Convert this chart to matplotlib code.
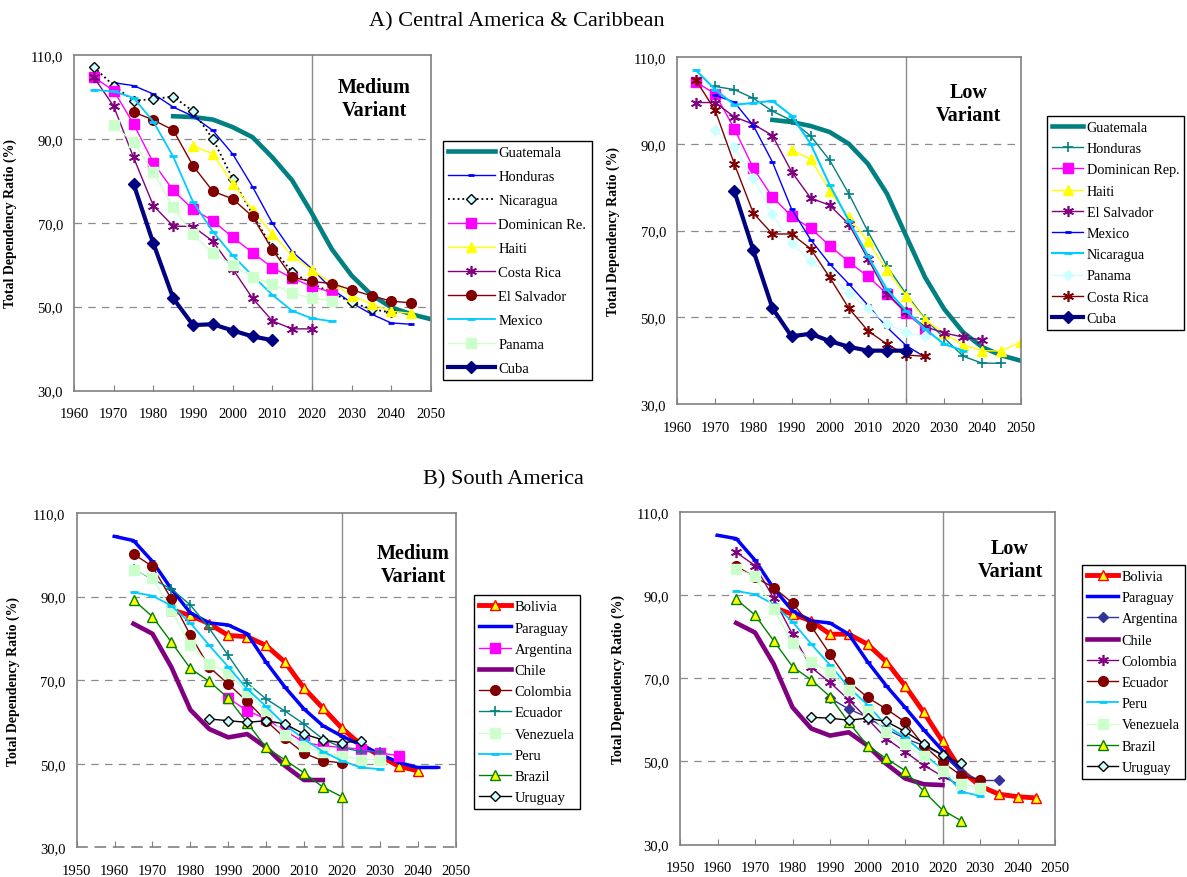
import numpy as np
import matplotlib
matplotlib.use("Agg")
import matplotlib.pyplot as plt

plt.rcParams['font.family'] = ['Liberation Serif', 'DejaVu Serif']

# ---- A) Central America & Caribbean, medium variant (first year, values every 5 years)
am_guatemala = [95.4, 95.2, 94.6, 92.8, 90.4, 85.6, 80.1, 72.2, 63.7, 57.4, 52.8, 49.8, 48.2, 47.0]        # 1985-
am_honduras = [103.4, 102.7, 100.7, 97.6, 95.4, 92.0, 86.4, 78.6, 69.9, 63.1, 59.0, 54.2, 50.9, 48.2, 46.1, 45.8]  # 1970-
am_nicaragua = [107.1, 102.7, 99.1, 99.5, 100.1, 96.6, 90.0, 80.5, 72.0, 64.0, 58.2, 55.5, 53.3, 51.0, 49.4, 48.6]  # 1965-
am_dominican = [104.7, 101.5, 93.6, 84.3, 77.7, 73.2, 70.5, 66.5, 62.9, 59.3, 56.8, 54.8, 53.4]           # 1965-
am_haiti = [88.4, 86.4, 79.3, 73.1, 67.3, 62.2, 58.7, 55.6, 52.6, 50.6, 48.9, 48.4]                        # 1990-
am_costa_rica = [104.7, 97.8, 85.6, 74.1, 69.2, 69.1, 65.6, 59.0, 52.0, 46.6, 44.7, 44.7]                  # 1965-
am_el_salvador = [96.4, 94.5, 92.1, 83.6, 77.5, 75.7, 71.5, 63.6, 57.0, 56.0, 55.5, 54.0, 52.6, 51.3, 50.9]  # 1975-
am_mexico = [101.7, 101.3, 99.8, 94.1, 85.8, 75.0, 67.9, 62.2, 57.4, 52.8, 49.0, 47.2, 46.5]              # 1965-
am_panama = [93.2, 89.2, 82.0, 73.7, 67.2, 62.8, 59.9, 57.1, 55.4, 53.2, 52.0, 51.4]                       # 1970-
am_cuba = [79.3, 65.1, 52.0, 45.6, 45.8, 44.3, 42.9, 42.0]                                                 # 1975-

# ---- A) low variant
al_guatemala = [95.5, 95.0, 94.1, 92.7, 90.0, 85.4, 78.5, 68.8, 59.2, 51.9, 46.5, 43.1, 41.2, 40.0]       # 1985-
al_honduras = [103.2, 102.5, 100.5, 97.5, 95.4, 91.8, 86.2, 78.5, 69.8, 61.8, 55.4, 49.6, 45.2, 41.0, 39.4, 39.4]  # 1970-
al_dominican = [104.2, 101.5, 93.5, 84.4, 77.7, 73.3, 70.5, 66.5, 62.8, 59.4, 55.4, 50.9, 47.3]           # 1965-
al_haiti = [88.5, 86.5, 79.2, 73.1, 67.5, 60.8, 55.0, 49.4, 46.3, 43.6, 42.3, 42.2, 44.3]                  # 1990-
al_el_salvador = [99.5, 99.5, 96.2, 94.5, 91.9, 83.6, 77.5, 75.8, 71.5, 63.5, 55.4, 51.2, 47.8, 46.4, 45.4, 44.8]  # 1965-
al_mexico = [101.2, 99.6, 94.2, 85.8, 75.0, 67.9, 62.3, 57.7, 52.8, 47.7, 43.5, 40.8]                      # 1970-
al_nicaragua = [106.9, 102.5, 99.0, 99.4, 99.9, 96.5, 90.0, 80.5, 72.3, 64.2, 56.4, 51.5, 47.3, 43.8, 42.3]  # 1965-
al_panama = [93.1, 89.2, 82.1, 73.7, 67.2, 62.9, 60.0, 55.5, 52.1, 48.5, 46.5, 45.6]                       # 1970-
al_costa_rica = [104.6, 97.7, 85.4, 74.0, 69.2, 69.2, 65.8, 59.2, 52.1, 46.9, 43.8, 41.3, 41.0]            # 1965-
al_cuba = [79.1, 65.4, 52.1, 45.6, 46.2, 44.5, 43.2, 42.3, 42.3, 42.3]                                     # 1975-

# ---- B) South America, medium variant
bm_bolivia = [86.8, 85.5, 83.5, 80.7, 80.4, 78.3, 74.3, 68.1, 63.3, 58.5, 54.6, 51.9, 49.4, 48.3]         # 1975-
bm_paraguay = [104.4, 103.4, 98.4, 91.8, 86.1, 83.7, 83.2, 81.1, 74.3, 68.3, 63.1, 59.1, 56.6, 54.5, 52.3, 50.3, 49.1, 49.1]  # 1960-
bm_argentina = [65.7, 62.7, 60.7, 57.9, 55.1, 54.3, 53.9, 53.5, 52.6, 51.9]                                # 1990-
bm_chile = [83.5, 81.1, 73.1, 62.9, 58.3, 56.3, 57.1, 53.9, 49.5, 46.1, 46.1]                              # 1965-
bm_colombia = [100.2, 97.2, 89.4, 80.8, 73.1, 69.1, 64.9, 60.3, 56.1, 52.5, 50.7, 50.2]                    # 1965-
bm_ecuador = [96.6, 94.2, 91.8, 88.0, 82.4, 75.9, 69.3, 65.5, 62.6, 59.5, 55.9, 53.9, 52.9, 52.9]          # 1965-
bm_venezuela = [96.4, 94.5, 86.8, 78.3, 73.9, 71.7, 67.1, 62.5, 56.9, 54.2, 52.7, 51.9, 51.0, 51.0]        # 1965-
bm_peru = [91.0, 90.2, 87.8, 83.7, 78.3, 73.2, 67.9, 63.7, 59.3, 55.9, 52.9, 50.7, 49.1, 48.7]             # 1965-
bm_brazil = [89.2, 85.2, 79.1, 72.8, 69.7, 65.7, 59.8, 53.9, 50.9, 47.8, 44.4, 42.1]                       # 1965-
bm_uruguay = [60.7, 60.3, 59.9, 60.3, 59.5, 57.1, 55.7, 55.0, 55.5]                                        # 1985-

# ---- B) low variant
bl_bolivia = [87.0, 85.4, 83.8, 80.6, 80.6, 78.2, 74.0, 68.2, 61.8, 54.8, 47.8, 44.1, 42.1, 41.5, 41.2]   # 1975-
bl_paraguay = [104.4, 103.6, 98.4, 91.6, 86.2, 83.8, 83.3, 80.6, 74.0, 68.2, 63.0, 57.6, 52.6, 47.5]       # 1960-
bl_argentina = [65.2, 62.6, 60.6, 57.8, 55.5, 53.8, 51.5, 47.5, 45.4, 45.4]                                # 1990-
bl_chile = [83.3, 81.0, 73.4, 63.0, 57.9, 56.2, 57.0, 53.8, 49.4, 45.9, 44.5, 44.3]                        # 1965-
bl_colombia = [100.3, 97.1, 89.2, 80.6, 72.6, 69.0, 64.8, 60.2, 55.5, 52.3, 49.1, 46.4, 44.1]             # 1965-
bl_ecuador = [97.0, 94.3, 91.8, 88.1, 82.5, 75.8, 69.2, 65.4, 62.6, 59.5, 53.8, 49.8, 46.6, 45.5]          # 1965-
bl_peru = [91.0, 90.2, 87.8, 83.6, 78.2, 73.2, 67.8, 63.6, 58.6, 55.8, 51.9, 47.9, 42.7, 41.7]             # 1965-
bl_venezuela = [96.4, 94.5, 86.6, 78.5, 73.8, 71.6, 67.2, 62.2, 57.0, 54.2, 51.2, 47.8, 44.6, 43.7]        # 1965-
bl_brazil = [89.0, 85.2, 79.0, 72.8, 69.6, 65.6, 59.4, 53.8, 50.7, 47.8, 42.8, 38.3, 35.7]                 # 1965-
bl_uruguay = [60.6, 60.4, 59.9, 60.4, 59.6, 57.2, 54.3, 51.5, 49.5]                                        # 1985-

y_ticks = [30, 50, 70, 90, 110]
y_ticklabels = ['30,0', '50,0', '70,0', '90,0', '110,0']

# colours (Excel palette)
TEAL = '#008080'
BLUE = '#0000FF'
MAGENTA = '#FF00FF'
YELLOW = '#FFFF00'
PURPLE = '#800080'
DARKRED = '#800000'
SKY = '#00CCFF'
PALEGREEN = '#CCFFCC'
PALECYAN = '#CCFFFF'
NAVY = '#000080'
RED = '#FF0000'
GREEN = '#008000'
INDIGO = '#333399'
STAR = (6, 2, 0)

W, H = 1187, 878
fig = plt.figure(figsize=(W / 100, H / 100), dpi=100)


def px_axes(l, t, r, b):
    return fig.add_axes([l / W, 1 - b / H, (r - l) / W, (b - t) / H])


def series(ax, start, vals, label, color, lw=1.0, ls='-', marker=None, ms=6,
           mfc=None, mec=None, mew=1.0):
    yrs = np.arange(start, start + 5 * len(vals), 5)
    ax.plot(yrs, vals, color=color, lw=lw, ls=ls, marker=marker, ms=ms,
            mfc=mfc if mfc else color, mec=mec if mec else color, mew=mew,
            label=label, solid_joinstyle='round')


def style_axes(ax, x0, variant, tx, ty, labx):
    ax.set_xlim(x0, 2050)
    ax.set_ylim(30, 110)
    ax.set_xticks(range(x0, 2051, 10))
    ax.set_yticks(y_ticks)
    ax.set_yticklabels(y_ticklabels)
    ax.tick_params(axis='x', direction='in', length=4, pad=12, labelsize=10.5, color='#808080')
    ax.tick_params(axis='y', direction='out', length=0, pad=8, labelsize=10.5)
    for v in [50, 70, 90]:
        ax.axhline(v, color='#8c8c8c', lw=0.9, ls=(0, (6, 5)), zorder=0)
    ax.axvline(2020, color='#8c8c8c', lw=1.0, zorder=0)
    for s in ax.spines.values():
        s.set_color('#808080')
        s.set_linewidth(1.2)
    ax.set_ylabel('Total Dependency Ratio (%)', fontweight='bold', fontsize=10)
    ax.yaxis.set_label_coords(labx, 0.5)
    ax.text(tx, ty, variant, transform=ax.transAxes, ha='center', va='center',
            fontsize=14.5, fontweight='bold', linespacing=1.2)


def place_legend(ax, x, y, spacing, hl, fs=10.5):
    ax.legend(loc='upper left', bbox_to_anchor=(x / W, 1 - y / H),
              bbox_transform=fig.transFigure, borderaxespad=0, frameon=True,
              fancybox=False, edgecolor='black', framealpha=1, fontsize=fs,
              numpoints=1, handlelength=hl, handletextpad=0.25,
              labelspacing=spacing, borderpad=0.35)


# ---------------- A, medium
ax1 = px_axes(74, 56, 431, 391.5)
series(ax1, 1985, am_guatemala, 'Guatemala', TEAL, lw=3.3)
series(ax1, 1970, am_honduras, 'Honduras', BLUE, marker='_', ms=5, mew=2)
series(ax1, 1965, am_nicaragua, 'Nicaragua', 'black', lw=1.3, ls=':', marker='D', ms=5,
       mfc=PALECYAN, mec='black')
series(ax1, 1965, am_dominican, 'Dominican Re.', MAGENTA, marker='s', ms=6.5)
series(ax1, 1990, am_haiti, 'Haiti', YELLOW, marker='^', ms=7.5)
series(ax1, 1965, am_costa_rica, 'Costa Rica', PURPLE, marker=STAR, ms=8, mew=1.2)
series(ax1, 1975, am_el_salvador, 'El Salvador', DARKRED, marker='o', ms=7)
series(ax1, 1965, am_mexico, 'Mexico', SKY, lw=1.3, marker='_', ms=6, mew=2)
series(ax1, 1970, am_panama, 'Panama', PALEGREEN, marker='s', ms=6.5)
series(ax1, 1975, am_cuba, 'Cuba', NAVY, lw=3, marker='D', ms=6)
style_axes(ax1, 1960, 'Medium\nVariant', 0.842, 0.87, -0.16)
place_legend(ax1, 443, 142, 0.74, 3.2)

# ---------------- A, low
ax2 = px_axes(677, 58, 1020.5, 405)
series(ax2, 1985, al_guatemala, 'Guatemala', TEAL, lw=3.3)
series(ax2, 1970, al_honduras, 'Honduras', TEAL, marker='+', ms=7, mew=1.2)
series(ax2, 1965, al_dominican, 'Dominican Rep.', MAGENTA, marker='s', ms=6.5)
series(ax2, 1990, al_haiti, 'Haiti', YELLOW, marker='^', ms=7.5)
series(ax2, 1965, al_el_salvador, 'El Salvador', PURPLE, marker=STAR, ms=8, mew=1.2)
series(ax2, 1970, al_mexico, 'Mexico', BLUE, marker='_', ms=5, mew=2)
series(ax2, 1965, al_nicaragua, 'Nicaragua', SKY, lw=1.5, marker='_', ms=6, mew=2)
series(ax2, 1970, al_panama, 'Panama', PALECYAN, marker='D', ms=5)
series(ax2, 1965, al_costa_rica, 'Costa Rica', DARKRED, marker=STAR, ms=8, mew=1.2)
series(ax2, 1975, al_cuba, 'Cuba', NAVY, lw=3, marker='D', ms=6)
style_axes(ax2, 1960, 'Low\nVariant', 0.848, 0.865, -0.167)
place_legend(ax2, 1047, 117, 0.58, 2.2, fs=10.2)

# ---------------- B, medium
ax3 = px_axes(76.7, 514, 455.5, 848.3)
series(ax3, 1975, bm_bolivia, 'Bolivia', RED, lw=3.5, marker='^', ms=7, mfc=YELLOW, mec=RED)
series(ax3, 1960, bm_paraguay, 'Paraguay', BLUE, lw=2.5, marker='_', ms=5, mew=2)
series(ax3, 1990, bm_argentina, 'Argentina', MAGENTA, marker='s', ms=6.5)
series(ax3, 1965, bm_chile, 'Chile', PURPLE, lw=3.3)
series(ax3, 1965, bm_colombia, 'Colombia', DARKRED, marker='o', ms=7)
series(ax3, 1965, bm_ecuador, 'Ecuador', TEAL, marker='+', ms=7, mew=1.2)
series(ax3, 1965, bm_venezuela, 'Venezuela', PALEGREEN, marker='s', ms=6.5)
series(ax3, 1965, bm_peru, 'Peru', SKY, lw=1.3, marker='_', ms=6, mew=2)
series(ax3, 1965, bm_brazil, 'Brazil', GREEN, marker='^', ms=7, mfc=YELLOW, mec=GREEN)
series(ax3, 1985, bm_uruguay, 'Uruguay', 'black', marker='D', ms=5.5, mfc=PALECYAN, mec='black')
style_axes(ax3, 1950, 'Medium\nVariant', 0.889, 0.845, -0.15)
ax3.spines['bottom'].set_linestyle((0, (6, 5)))
place_legend(ax3, 474, 596, 0.55, 2.2)

# ---------------- B, low
ax4 = px_axes(680, 513, 1055, 845.5)
series(ax4, 1975, bl_bolivia, 'Bolivia', RED, lw=3.5, marker='^', ms=7, mfc=YELLOW, mec=RED)
series(ax4, 1960, bl_paraguay, 'Paraguay', BLUE, lw=2.5, marker='_', ms=5, mew=2)
series(ax4, 1990, bl_argentina, 'Argentina', INDIGO, marker='D', ms=5.5)
series(ax4, 1965, bl_chile, 'Chile', PURPLE, lw=3.3)
series(ax4, 1965, bl_colombia, 'Colombia', PURPLE, marker=STAR, ms=8, mew=1.2)
series(ax4, 1965, bl_ecuador, 'Ecuador', DARKRED, marker='o', ms=7)
series(ax4, 1965, bl_peru, 'Peru', SKY, lw=1.3, marker='_', ms=6, mew=2)
series(ax4, 1965, bl_venezuela, 'Venezuela', PALEGREEN, marker='s', ms=6.5)
series(ax4, 1965, bl_brazil, 'Brazil', GREEN, marker='^', ms=7, mfc=YELLOW, mec=GREEN)
series(ax4, 1985, bl_uruguay, 'Uruguay', 'black', marker='D', ms=5.5, mfc=PALECYAN, mec='black')
style_axes(ax4, 1950, 'Low\nVariant', 0.88, 0.858, -0.147)
place_legend(ax4, 1082, 566, 0.58, 2.2, fs=10.2)

fig.text(517 / W, 1 - 22 / H, 'A) Central America & Caribbean', ha='center', va='center', fontsize=16)
fig.text(503 / W, 1 - 480 / H, 'B) South America', ha='center', va='center', fontsize=16)

fig.savefig('out.png', dpi=100)
